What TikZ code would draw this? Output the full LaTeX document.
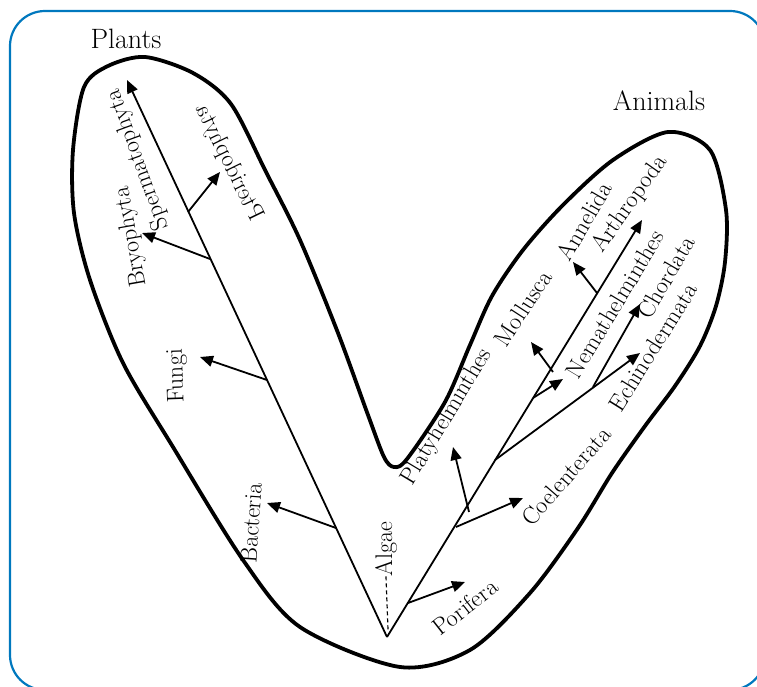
\documentclass[tikz,border=0pt]{standalone}
\usepackage{fontspec}
\usetikzlibrary{arrows.meta}

\definecolor{marco}{RGB}{0,120,190}

\begin{document}
\begin{tikzpicture}[
    x=1pt, y=-1pt,
    >={Triangle[length=13pt,width=11pt]},
    taxon/.style={font=\fontsize{24}{28}\selectfont, inner sep=0pt},
    grupo/.style={font=\fontsize{28}{32}\selectfont, inner sep=0pt},
    rama/.style={->, line width=1.8pt},
    contorno/.style={line width=3.8pt, line join=round}
]
  \useasboundingbox (0,0) rectangle (757,687);
  \clip (0,0) rectangle (757,687);

  % Marco azul
  \draw[marco, line width=2.2pt, rounded corners=35pt] (10,11) rectangle (765,690);

  % Contorno en V
  \draw[contorno] plot[smooth cycle, tension=0.5] coordinates {
    (84,87) (108,66) (145,57) (193,73) (231,104) (266,172) (300,240)
    (338,333) (368,415) (384,457) (394,467) (407,459) (445,402) (470,345)
    (492,296) (523,250) (563,205) (613,160) (668,132) (710,150) (726,210)
    (725,262) (716,306) (700,346) (675,386) (645,426) (612,473) (578,528)
    (530,593) (470,650) (400,667) (300,627) (243,560) (173,447) (123,363)
    (90,280) (74,213) (73,150)};

  % Titulos
  \node[grupo] (plants)  at (126,39)  {Plants};
  \node[grupo] (animals) at (659,101) {Animals};

  % Puntos del arbol
  \coordinate (origen)    at (387,637);
  \coordinate (spermTip)  at (127,80);
  \coordinate (bactBase)  at (336,528);
  \coordinate (bactTip)   at (267,503);
  \coordinate (fungBase)  at (267,380);
  \coordinate (fungTip)   at (200,357);
  \coordinate (bryoBase)  at (210,259);
  \coordinate (bryoTip)   at (142,233);
  \coordinate (pterBase)  at (188,212);
  \coordinate (pterTip)   at (220,172);

  \coordinate (arthTip)   at (642,220);
  \coordinate (porBase)   at (408,603);
  \coordinate (porTip)    at (465,582);
  \coordinate (coelBase)  at (456,527);
  \coordinate (coelTip)   at (523,498);
  \coordinate (platyBase) at (469,512);
  \coordinate (platyTip)  at (453,447);
  \coordinate (echBase)   at (495,460);
  \coordinate (echTip)    at (640,353);
  \coordinate (chordBase) at (593,387);
  \coordinate (chordTip)  at (640,304);
  \coordinate (nemBase)   at (533,398);
  \coordinate (nemTip)    at (563,379);
  \coordinate (mollBase)  at (553,372);
  \coordinate (mollTip)   at (531,342);
  \coordinate (annBase)   at (597,293);
  \coordinate (annTip)    at (573,262);
  \coordinate (algaeEnd)  at (388,630);

  % Ramas de plantas
  \draw[rama] (origen) -- (spermTip);
  \draw[rama] (bactBase) -- (bactTip);
  \draw[rama] (fungBase) -- (fungTip);
  \draw[rama] (bryoBase) -- (bryoTip);
  \draw[rama] (pterBase) -- (pterTip);

  % Ramas de animales
  \draw[rama] (origen) -- (arthTip);
  \draw[rama] (porBase) -- (porTip);
  \draw[rama] (coelBase) -- (coelTip);
  \draw[rama] (platyBase) -- (platyTip);
  \draw[rama] (echBase) -- (echTip);
  \draw[rama] (chordBase) -- (chordTip);
  \draw[rama] (nemBase) -- (nemTip);
  \draw[rama] (mollBase) -- (mollTip);
  \draw[rama] (annBase) -- (annTip);

  % Nombres de plantas
  \node[taxon, rotate=110] (sperm) at (138,160) {Spermatophyta};
  \node[taxon, rotate=100] (bryo)  at (131,237) {Bryophyta};
  \node[taxon, rotate=-64, xscale=-1] (pter) at (229,163) {Pteridophyta};
  \node[taxon, rotate=92]  (fungi) at (177,376) {Fungi};
  \node[taxon, rotate=86]  (bact)  at (251,523) {Bacteria};
  \node[taxon, rotate=90]  (algae) at (386,549) {Algae};
  \draw[line width=1.2pt, dash pattern=on 4pt off 3pt] (algae.west) -- (algaeEnd);

  % Nombres de animales
  \node[taxon, rotate=38] (pori)  at (465,607) {Porifera};
  \node[taxon, rotate=49] (coel)  at (566,476) {Coelenterata};
  \node[taxon, rotate=59] (platy) at (447,417) {Platyhelminthes};
  \node[taxon, rotate=57] (moll)  at (523,308) {Mollusca};
  \node[taxon, rotate=59] (nem)   at (615,304) {Nemathelminthes};
  \node[taxon, rotate=60] (ann)   at (584,221) {Annelida};
  \node[taxon, rotate=55] (arth)  at (630,204) {Arthropoda};
  \node[taxon, rotate=60] (chord) at (666,277) {Chordata};
  \node[taxon, rotate=58] (echi)  at (653,347) {Echinodermata};

\end{tikzpicture}
\end{document}
